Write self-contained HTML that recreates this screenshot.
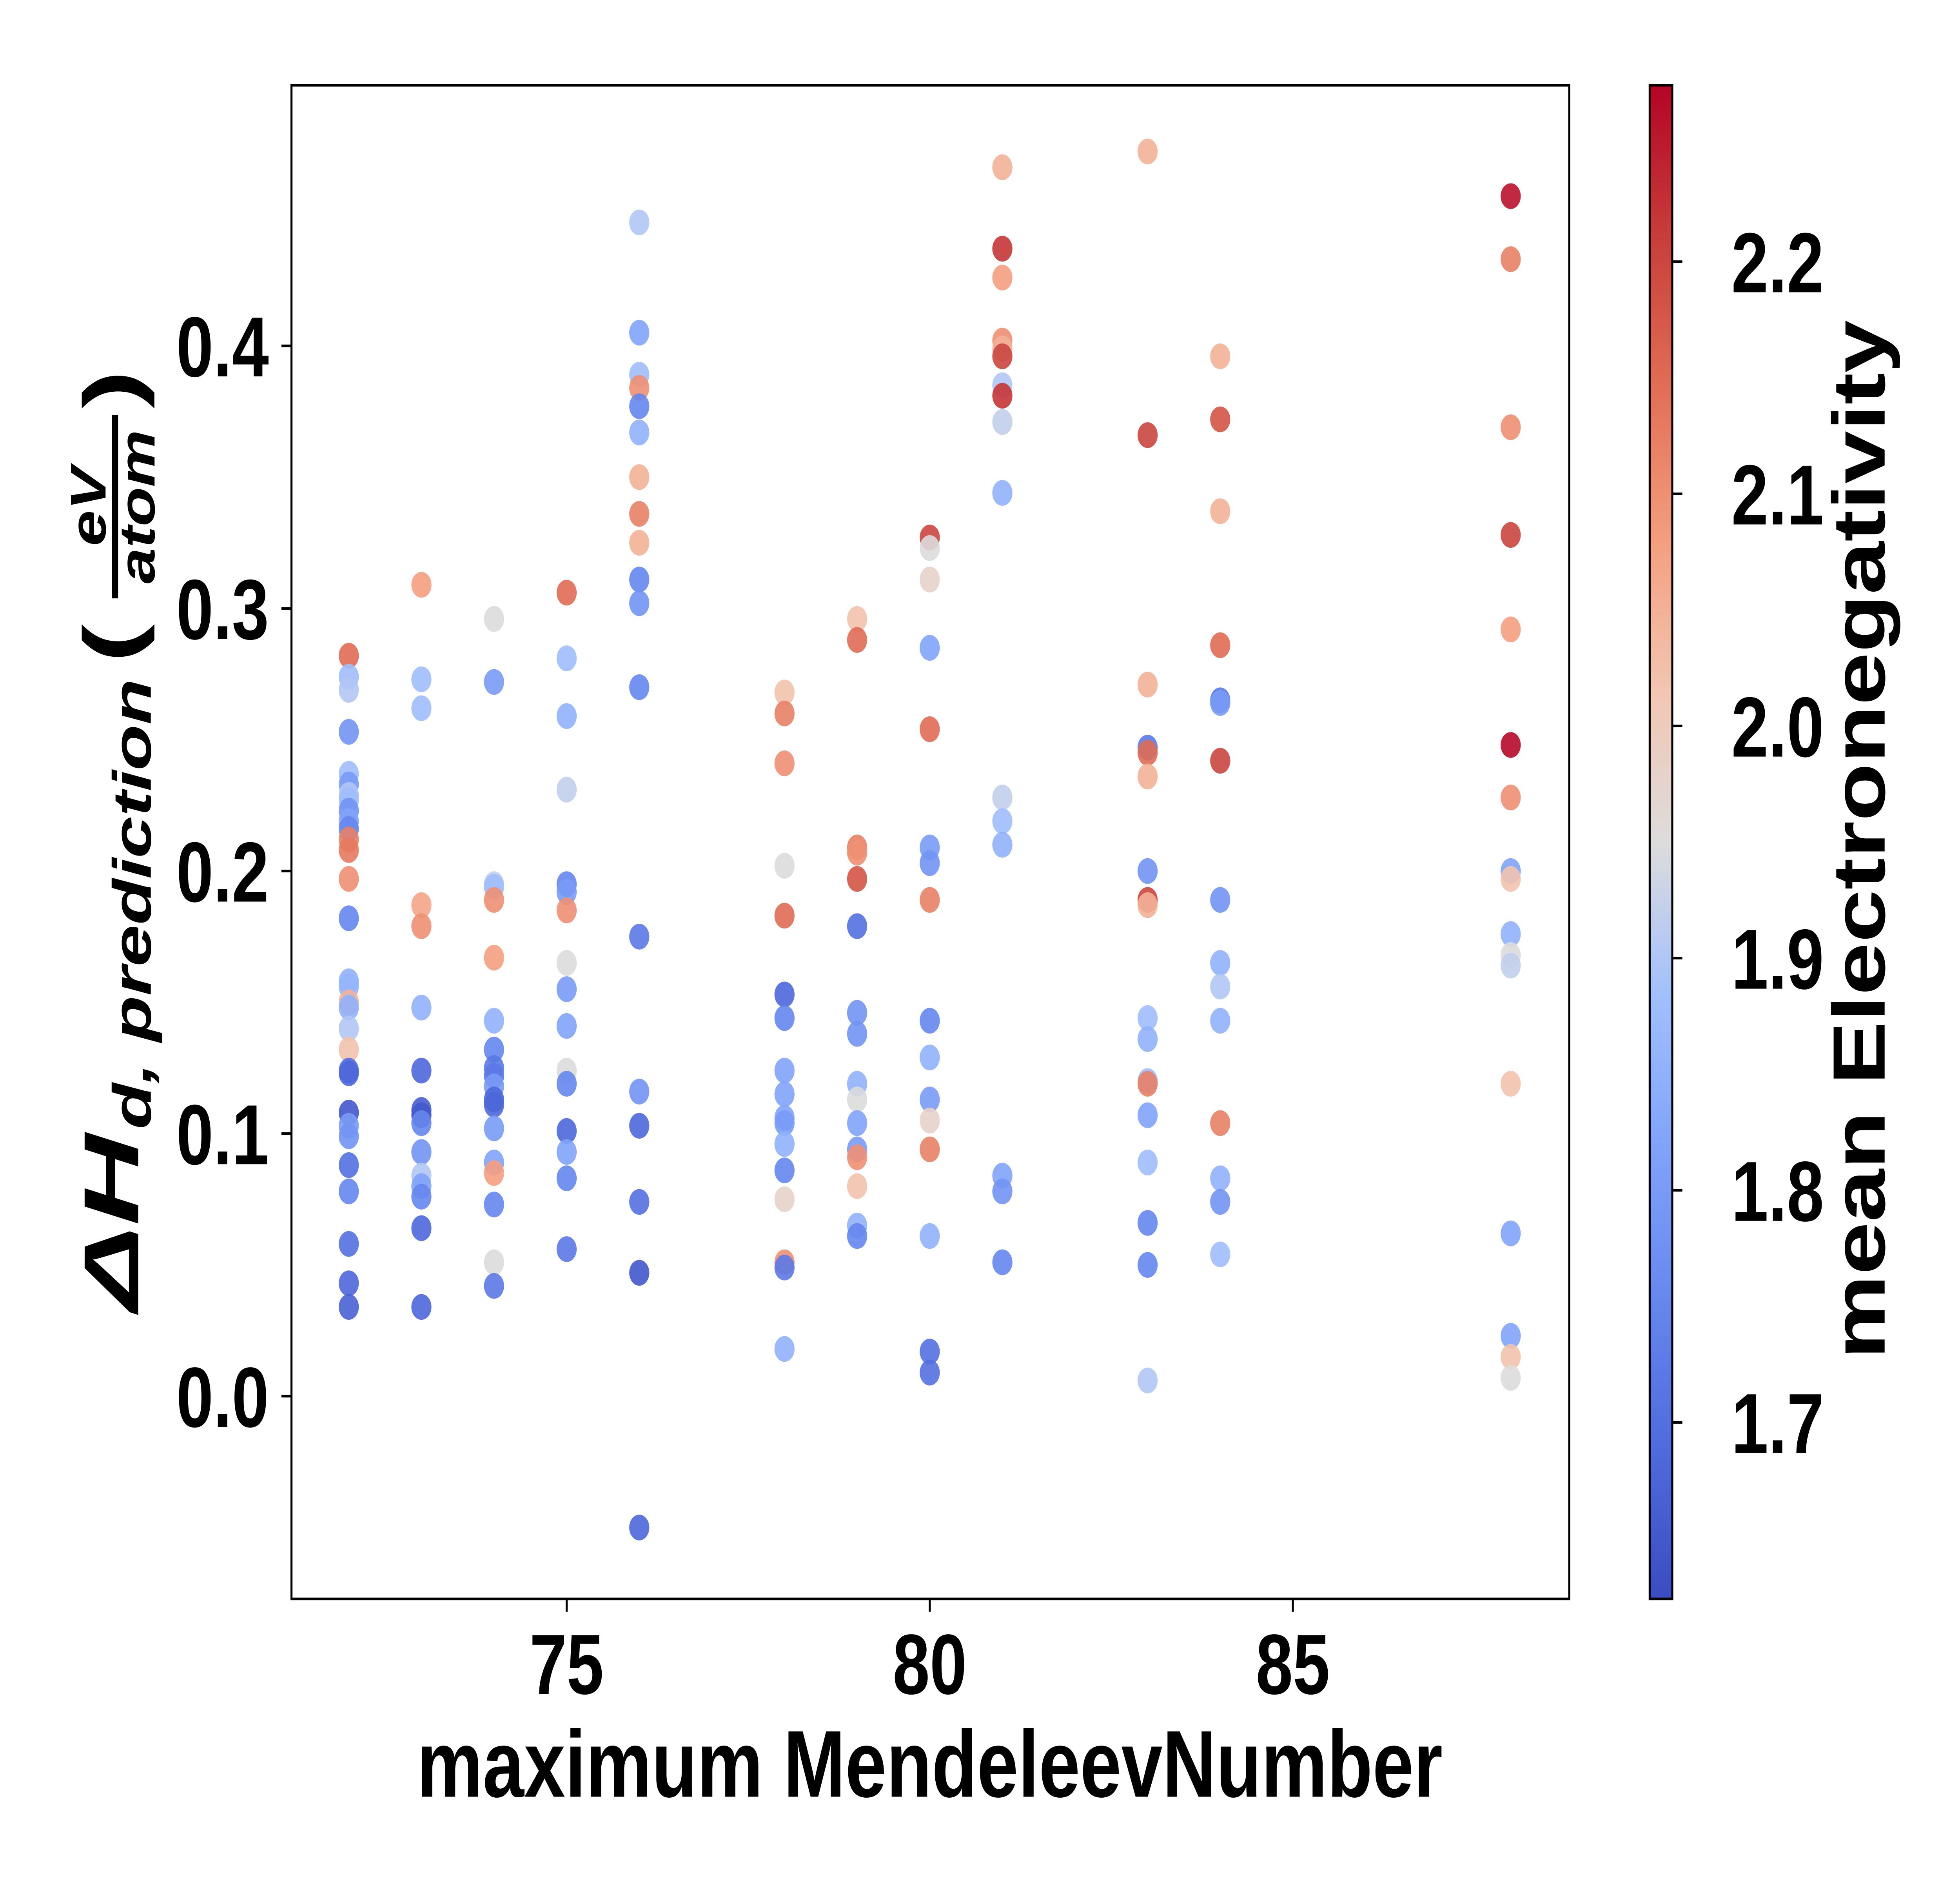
<!DOCTYPE html>
<html><head><meta charset="utf-8"><style>
html,body{margin:0;padding:0;background:#fff;width:100%;height:100%;overflow:hidden}
svg{display:block;position:absolute;left:0;top:0;width:100vw;height:100vh}
text{font-family:"Liberation Sans","DejaVu Sans",sans-serif;font-weight:bold;fill:#000}
</style></head><body>
<svg id="chart" viewBox="0 0 1560 1170" preserveAspectRatio="none" xmlns="http://www.w3.org/2000/svg">
<defs><linearGradient id="cmap" x1="0" y1="1" x2="0" y2="0"></linearGradient></defs>
<rect x="0" y="0" width="1560" height="1170" fill="#fff"/>
<g id="points"></g>
<rect x="232" y="53" width="1017" height="941" fill="none" stroke="#000" stroke-width="1.6"/>
<g id="xticks"></g>
<g id="yticks"></g>
<text x="740" y="1117" font-size="59" text-anchor="middle">maximum MendeleevNumber</text>
<g transform="translate(90,522) rotate(-90)">
  <text x="-293" y="20" font-size="62" font-style="italic" textLength="110" lengthAdjust="spacingAndGlyphs">ΔH</text>
  <text x="-180" y="30" font-size="43" font-style="italic" textLength="280" lengthAdjust="spacingAndGlyphs">d, prediction</text>
  <text x="110" y="20" font-size="62" textLength="24" lengthAdjust="spacingAndGlyphs">(</text>
  <text x="207" y="-6" font-size="40" font-style="italic" text-anchor="middle">eV</text>
  <rect x="150" y="-1" width="114" height="5" fill="#000"/>
  <text x="207" y="33" font-size="40" font-style="italic" text-anchor="middle">atom</text>
  <text x="268" y="20" font-size="62" textLength="24" lengthAdjust="spacingAndGlyphs">)</text>
</g>
<rect x="1313" y="53" width="18" height="941" fill="url(#cmap)"/>
<rect x="1313" y="53" width="18" height="941" fill="none" stroke="#000" stroke-width="1.6"/>
<g id="cticks"></g>
<text transform="translate(1500,522) rotate(-90)" x="0" y="0" font-size="59" text-anchor="middle">mean Electronegativity</text>
</svg>
<script>
const xs=[72,72,72,72,72,72,72,72,72,72,72,72,72,72,72,72,72,72,72,72,72,72,72,72,72,72,72,72,72,72,72,
73,73,73,73,73,73,73,73,73,73,73,73,73,73,73,73,
74,74,74,74,74,74,74,74,74,74,74,74,74,74,74,74,74,74,74,
75,75,75,75,75,75,75,75,75,75,75,75,75,75,75,75,
76,76,76,76,76,76,76,76,76,76,76,76,76,76,76,76,76,76,
78,78,78,78,78,78,78,78,78,78,78,78,78,78,78,78,78,
79,79,79,79,79,79,79,79,79,79,79,79,79,79,79,79,
80,80,80,80,80,80,80,80,80,80,80,80,80,80,80,80,
81,81,81,81,81,81,81,81,81,81,81,81,81,81,81,81,
83,83,83,83,83,83,83,83,83,83,83,83,83,83,83,83,83,83,
84,84,84,84,84,84,84,84,84,84,84,84,84,84,84,
88,88,88,88,88,88,88,88,88,88,88,88,88,88,88,88,88];
const ys=[0.282,0.274,0.269,0.253,0.237,0.233,0.229,0.227,0.223,0.219,0.216,0.212,0.208,0.197,0.182,0.158,0.156,0.150,0.148,0.140,0.132,0.124,0.123,0.108,0.103,0.099,0.088,0.078,0.058,0.043,0.034,
0.309,0.273,0.262,0.187,0.179,0.148,0.124,0.109,0.107,0.104,0.093,0.084,0.080,0.076,0.064,0.034,
0.296,0.272,0.195,0.194,0.189,0.167,0.143,0.132,0.125,0.122,0.118,0.113,0.111,0.102,0.089,0.085,0.073,0.051,0.042,
0.306,0.281,0.259,0.231,0.195,0.192,0.185,0.165,0.155,0.141,0.124,0.119,0.101,0.093,0.083,0.056,
0.447,0.405,0.389,0.384,0.377,0.367,0.350,0.336,0.325,0.311,0.302,0.270,0.175,0.116,0.103,0.074,0.047,-0.050,
0.268,0.260,0.241,0.202,0.183,0.153,0.144,0.124,0.115,0.106,0.104,0.096,0.086,0.075,0.051,0.049,0.018,
0.296,0.288,0.209,0.207,0.197,0.179,0.146,0.138,0.119,0.113,0.104,0.094,0.091,0.080,0.065,0.061,
0.327,0.323,0.311,0.285,0.254,0.209,0.203,0.189,0.143,0.129,0.113,0.105,0.094,0.061,0.017,0.009,
0.468,0.437,0.426,0.402,0.399,0.396,0.385,0.381,0.371,0.344,0.228,0.219,0.210,0.084,0.078,0.051,
0.474,0.366,0.271,0.247,0.245,0.236,0.200,0.189,0.187,0.144,0.136,0.120,0.119,0.107,0.089,0.066,0.050,0.006,
0.396,0.372,0.337,0.286,0.265,0.264,0.242,0.189,0.165,0.156,0.143,0.104,0.083,0.074,0.054,
0.457,0.433,0.369,0.328,0.292,0.248,0.228,0.200,0.197,0.176,0.168,0.164,0.119,0.062,0.023,0.015,0.007];
const es=[2.15,1.88,1.9,1.78,1.88,1.8,1.9,1.88,1.78,1.82,1.75,2.12,2.13,2.1,1.75,1.85,1.86,2.05,1.85,1.9,2.02,1.7,1.68,1.65,1.8,1.78,1.7,1.75,1.7,1.68,1.67,
2.08,1.88,1.88,2.07,2.1,1.85,1.68,1.66,1.65,1.75,1.78,1.9,1.82,1.75,1.68,1.68,
1.95,1.8,1.92,1.88,2.1,2.08,1.85,1.75,1.72,1.72,1.8,1.68,1.68,1.8,1.82,2.08,1.75,1.95,1.72,
2.15,1.88,1.85,1.92,1.75,1.8,2.1,1.95,1.8,1.82,1.95,1.75,1.68,1.82,1.75,1.72,
1.9,1.82,1.88,2.1,1.75,1.85,2.05,2.12,2.05,1.75,1.78,1.75,1.72,1.78,1.68,1.7,1.65,1.68,
2.02,2.12,2.1,1.95,2.15,1.68,1.75,1.82,1.82,1.82,1.8,1.85,1.75,1.98,2.1,1.72,1.85,
2.02,2.15,2.12,2.1,2.18,1.7,1.78,1.78,1.85,1.95,1.82,1.8,2.1,2.02,1.85,1.75,
2.2,1.95,1.98,1.82,2.15,1.8,1.78,2.12,1.75,1.85,1.8,1.98,2.12,1.85,1.7,1.7,
2.05,2.22,2.08,2.1,2.05,2.2,1.9,2.22,1.92,1.85,1.92,1.88,1.85,1.82,1.78,1.75,
2.05,2.2,2.05,1.72,2.15,2.05,1.78,2.2,2.05,1.88,1.85,1.88,2.12,1.82,1.88,1.75,1.75,1.9,
2.05,2.18,2.05,2.15,1.72,1.8,2.2,1.78,1.85,1.9,1.85,2.12,1.85,1.78,1.88,
2.26,2.12,2.1,2.2,2.08,2.27,2.1,1.82,2.02,1.85,1.95,1.92,2.02,1.82,1.82,2.02,1.95];
const xTicks=[75,80,85];
const yTicks=[0.0,0.1,0.2,0.3,0.4];
const cTicks=[1.7,1.8,1.9,2.0,2.1,2.2];
const xTickLabels=["75","80","85"];
const yTickLabels=["0.0","0.1","0.2","0.3","0.4"];
const cTickLabels=["1.7","1.8","1.9","2.0","2.1","2.2"];

const NS="http://www.w3.org/2000/svg";
function sx(v){return 451+(v-75)*57.8;}
function sy(v){return 868-v*1632.5;}
const EMIN=1.624,EMAX=2.276;
function sc(v){return 994-(v-EMIN)/(EMAX-EMIN)*941;}
const stops=[[0,59,76,192],[0.1,80,107,221],[0.2,103,136,238],[0.3,129,163,250],[0.4,162,192,253],[0.5,221,220,220],[0.6,242,198,178],[0.7,244,158,127],[0.8,225,110,86],[0.9,199,62,58],[1,180,4,38]];
function cmap(t){t=Math.max(0,Math.min(1,t));for(let i=1;i<stops.length;i++){if(t<=stops[i][0]){const a=stops[i-1],b=stops[i],f=(t-a[0])/(b[0]-a[0]);return 'rgb('+[1,2,3].map(k=>Math.round(a[k]+(b[k]-a[k])*f)).join(',')+')';}}return 'rgb(180,4,38)';}
const grad=document.getElementById('cmap');
stops.forEach(s=>{const st=document.createElementNS(NS,'stop');st.setAttribute('offset',s[0]);st.setAttribute('stop-color','rgb('+s[1]+','+s[2]+','+s[3]+')');grad.appendChild(st);});

const pg=document.getElementById('points');
for(let i=0;i<xs.length;i++){
  const c=document.createElementNS(NS,'circle');
  c.setAttribute('cx',sx(xs[i]));c.setAttribute('cy',sy(ys[i]));c.setAttribute('r',8);
  c.setAttribute('fill',cmap((es[i]-EMIN)/(EMAX-EMIN)));c.setAttribute('fill-opacity','0.9');
  
  
  pg.appendChild(c);
}
const xg=document.getElementById('xticks');
xTicks.forEach((v,i)=>{
  const l=document.createElementNS(NS,'line');l.setAttribute('x1',sx(v));l.setAttribute('x2',sx(v));l.setAttribute('y1',994);l.setAttribute('y2',1002);l.setAttribute('stroke','#000');l.setAttribute('stroke-width',1.6);
  
  
  xg.appendChild(l);
  const t=document.createElementNS(NS,'text');t.setAttribute('x',sx(v));t.setAttribute('y',1053);t.setAttribute('font-size',53);t.setAttribute('text-anchor','middle');t.textContent=xTickLabels[i];
  
  
  xg.appendChild(t);
});
const yg=document.getElementById('yticks');
yTicks.forEach((v,i)=>{
  const l=document.createElementNS(NS,'line');l.setAttribute('x1',224);l.setAttribute('x2',232);l.setAttribute('y1',sy(v));l.setAttribute('y2',sy(v));l.setAttribute('stroke','#000');l.setAttribute('stroke-width',1.6);
  
  
  yg.appendChild(l);
  const t=document.createElementNS(NS,'text');t.setAttribute('x',214);t.setAttribute('y',sy(v)+19);t.setAttribute('font-size',53);t.setAttribute('text-anchor','end');t.textContent=yTickLabels[i];
  
  
  yg.appendChild(t);
});
const cg=document.getElementById('cticks');
cTicks.forEach((v,i)=>{
  const l=document.createElementNS(NS,'line');l.setAttribute('x1',1331);l.setAttribute('x2',1339);l.setAttribute('y1',sc(v));l.setAttribute('y2',sc(v));l.setAttribute('stroke','#000');l.setAttribute('stroke-width',1.6);
  
  
  cg.appendChild(l);
  const t=document.createElementNS(NS,'text');t.setAttribute('x',1378);t.setAttribute('y',sc(v)+19);t.setAttribute('font-size',53);t.textContent=cTickLabels[i];
  
  
  cg.appendChild(t);
});
</script>
</body></html>
